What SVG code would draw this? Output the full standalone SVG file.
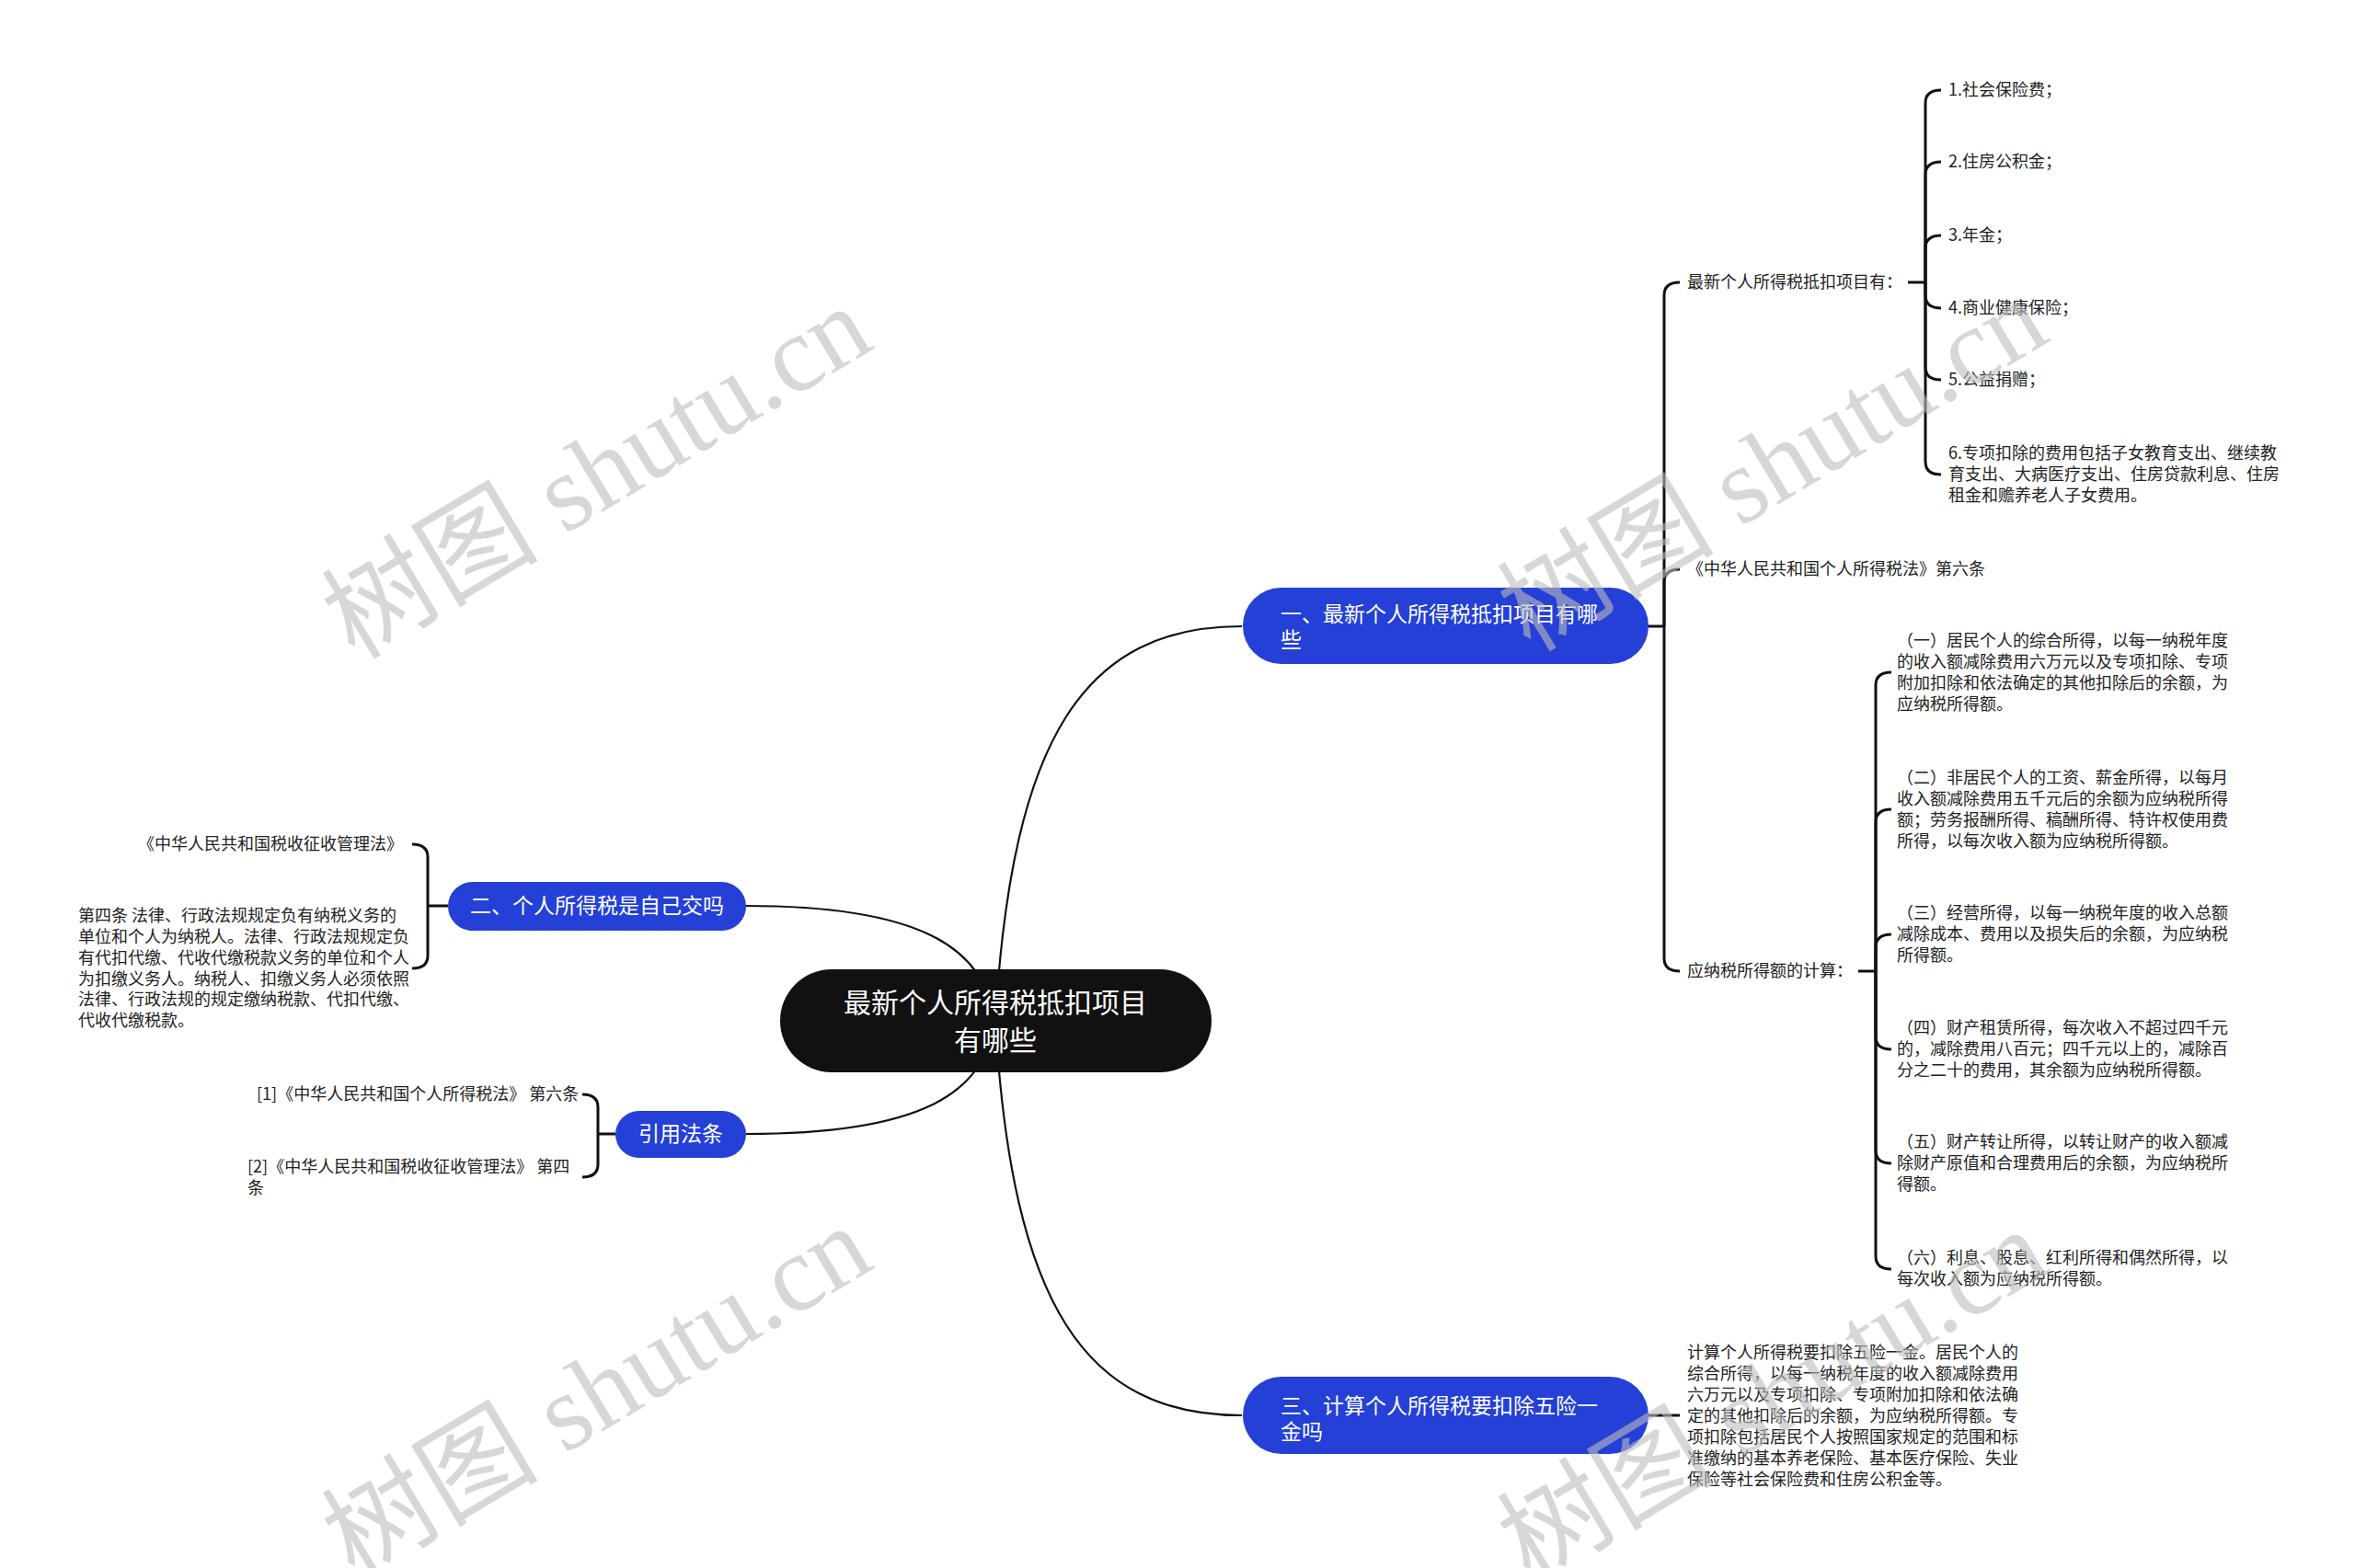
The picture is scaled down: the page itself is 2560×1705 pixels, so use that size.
<svg xmlns="http://www.w3.org/2000/svg" width="2560" height="1705" viewBox="0 0 2560 1705">
<style>
.bg{fill:#ffffff}
.link{fill:none;stroke:#111111;stroke-width:2.2}
.br{fill:none;stroke:#111111;stroke-width:3}
.root{fill:#111111}
.main{fill:#2440d6}
.rt{font-family:"Noto Sans CJK SC","Noto Sans",sans-serif;font-size:30px;fill:#ffffff}
.mt{font-family:"Noto Sans CJK SC","Noto Sans",sans-serif;font-size:23px;fill:#ffffff}
.lt{font-family:"Noto Sans CJK SC","Noto Sans",sans-serif;font-size:18px;fill:#222222}
.wm{font-family:"Liberation Serif","Noto Sans CJK SC",serif;font-size:118px;fill:#bdbdbd;fill-opacity:0.6}
</style>
<rect class="bg" x="0" y="0" width="2560" height="1705"/>
<g id="connectors">
<path class="link" d="M1082,1110 C1100,800 1180,681 1350,681"/>
<path class="link" d="M1082,1110 C1100,1420 1180,1539 1350,1539"/>
<path class="link" d="M1082,1110 C1070,1030 1000,985 811,985"/>
<path class="link" d="M1082,1110 C1070,1190 1000,1233 811,1233"/>
<path class="br" d="M1791,681 L1809,681"/>
<path class="br" d="M1809,681 L1809,321 Q1809,307 1826,307"/>
<path class="br" d="M1809,681 L1809,633 Q1809,619 1826,619"/>
<path class="br" d="M1809,681 L1809,1042 Q1809,1056 1826,1056"/>
<path class="br" d="M2074,307 L2093,307"/>
<path class="br" d="M2093,307 L2093,112 Q2093,98 2110,98"/>
<path class="br" d="M2093,307 L2093,190 Q2093,176 2110,176"/>
<path class="br" d="M2093,307 L2093,270 Q2093,256 2110,256"/>
<path class="br" d="M2093,307 L2093,321 Q2093,335 2110,335"/>
<path class="br" d="M2093,307 L2093,399 Q2093,413 2110,413"/>
<path class="br" d="M2093,307 L2093,502 Q2093,516 2110,516"/>
<path class="br" d="M2020,1056 L2039,1056"/>
<path class="br" d="M2039,1056 L2039,745 Q2039,731 2056,731"/>
<path class="br" d="M2039,1056 L2039,894 Q2039,880 2056,880"/>
<path class="br" d="M2039,1056 L2039,1030 Q2039,1016 2056,1016"/>
<path class="br" d="M2039,1056 L2039,1127 Q2039,1141 2056,1141"/>
<path class="br" d="M2039,1056 L2039,1251 Q2039,1265 2056,1265"/>
<path class="br" d="M2039,1056 L2039,1366 Q2039,1380 2056,1380"/>
<path class="br" d="M1791,1539 L1826,1539"/>
<path class="br" d="M487,985 L465,985"/>
<path class="br" d="M465,985 L465,932 Q465,918 448,918"/>
<path class="br" d="M465,985 L465,1039 Q465,1053 448,1053"/>
<path class="br" d="M669,1233 L650,1233"/>
<path class="br" d="M650,1233 L650,1204 Q650,1190 633,1190"/>
<path class="br" d="M650,1233 L650,1266 Q650,1280 633,1280"/>
</g>
<g id="root">
<rect class="root" x="848" y="1054" width="469" height="112" rx="56"/>
<text class="rt" text-anchor="middle"><tspan x="1082" y="1101">最新个人所得税抵扣项目</tspan><tspan x="1082" y="1142">有哪些</tspan></text>
</g>
<g id="n1">
<rect class="main" x="1351" y="639" width="441" height="83" rx="41.5"/>
<text class="mt"><tspan x="1392" y="676">一、最新个人所得税抵扣项目有哪</tspan><tspan x="1392" y="704">些</tspan></text>
</g>
<g id="n2">
<rect class="main" x="487" y="959" width="324" height="53" rx="26.5"/>
<text class="mt" x="649" y="993" text-anchor="middle">二、个人所得税是自己交吗</text>
</g>
<g id="n3">
<rect class="main" x="1351" y="1497" width="441" height="84" rx="42"/>
<text class="mt"><tspan x="1392" y="1537">三、计算个人所得税要扣除五险一</tspan><tspan x="1392" y="1565">金吗</tspan></text>
</g>
<g id="n4">
<rect class="main" x="669" y="1208" width="142" height="51" rx="25.5"/>
<text class="mt" x="740" y="1241" text-anchor="middle">引用法条</text>
</g>
<g id="l1"><text class="lt" x="1834" y="313">最新个人所得税抵扣项目有：</text></g>
<g id="l1a"><text class="lt" x="2118" y="104">1.社会保险费；</text></g>
<g id="l1b"><text class="lt" x="2118" y="182">2.住房公积金；</text></g>
<g id="l1c"><text class="lt" x="2118" y="262">3.年金；</text></g>
<g id="l1d"><text class="lt" x="2118" y="341">4.商业健康保险；</text></g>
<g id="l1e"><text class="lt" x="2118" y="419">5.公益捐赠；</text></g>
<g id="l1f"><text class="lt"><tspan x="2118" y="499">6.专项扣除的费用包括子女教育支出、继续教</tspan><tspan x="2118" y="522">育支出、大病医疗支出、住房贷款利息、住房</tspan><tspan x="2118" y="545">租金和赡养老人子女费用。</tspan></text></g>
<g id="l2"><text class="lt" x="1834" y="625">《中华人民共和国个人所得税法》第六条</text></g>
<g id="l3"><text class="lt" x="1834" y="1062">应纳税所得额的计算：</text></g>
<g id="l3a"><text class="lt"><tspan x="2062" y="703">（一）居民个人的综合所得，以每一纳税年度</tspan><tspan x="2062" y="726">的收入额减除费用六万元以及专项扣除、专项</tspan><tspan x="2062" y="749">附加扣除和依法确定的其他扣除后的余额，为</tspan><tspan x="2062" y="772">应纳税所得额。</tspan></text></g>
<g id="l3b"><text class="lt"><tspan x="2062" y="852">（二）非居民个人的工资、薪金所得，以每月</tspan><tspan x="2062" y="875">收入额减除费用五千元后的余额为应纳税所得</tspan><tspan x="2062" y="898">额；劳务报酬所得、稿酬所得、特许权使用费</tspan><tspan x="2062" y="921">所得，以每次收入额为应纳税所得额。</tspan></text></g>
<g id="l3c"><text class="lt"><tspan x="2062" y="999">（三）经营所得，以每一纳税年度的收入总额</tspan><tspan x="2062" y="1022">减除成本、费用以及损失后的余额，为应纳税</tspan><tspan x="2062" y="1045">所得额。</tspan></text></g>
<g id="l3d"><text class="lt"><tspan x="2062" y="1124">（四）财产租赁所得，每次收入不超过四千元</tspan><tspan x="2062" y="1147">的，减除费用八百元；四千元以上的，减除百</tspan><tspan x="2062" y="1170">分之二十的费用，其余额为应纳税所得额。</tspan></text></g>
<g id="l3e"><text class="lt"><tspan x="2062" y="1248">（五）财产转让所得，以转让财产的收入额减</tspan><tspan x="2062" y="1271">除财产原值和合理费用后的余额，为应纳税所</tspan><tspan x="2062" y="1294">得额。</tspan></text></g>
<g id="l3f"><text class="lt"><tspan x="2062" y="1374">（六）利息、股息、红利所得和偶然所得，以</tspan><tspan x="2062" y="1397">每次收入额为应纳税所得额。</tspan></text></g>
<g id="l4"><text class="lt"><tspan x="1834" y="1477">计算个人所得税要扣除五险一金。居民个人的</tspan><tspan x="1834" y="1500">综合所得，以每一纳税年度的收入额减除费用</tspan><tspan x="1834" y="1523">六万元以及专项扣除、专项附加扣除和依法确</tspan><tspan x="1834" y="1546">定的其他扣除后的余额，为应纳税所得额。专</tspan><tspan x="1834" y="1569">项扣除包括居民个人按照国家规定的范围和标</tspan><tspan x="1834" y="1592">准缴纳的基本养老保险、基本医疗保险、失业</tspan><tspan x="1834" y="1615">保险等社会保险费和住房公积金等。</tspan></text></g>
<g id="l5"><text class="lt" x="438" y="924" text-anchor="end">《中华人民共和国税收征收管理法》</text></g>
<g id="l6"><text class="lt"><tspan x="85" y="1002">第四条 法律、行政法规规定负有纳税义务的</tspan><tspan x="85" y="1025">单位和个人为纳税人。法律、行政法规规定负</tspan><tspan x="85" y="1048">有代扣代缴、代收代缴税款义务的单位和个人</tspan><tspan x="85" y="1071">为扣缴义务人。纳税人、扣缴义务人必须依照</tspan><tspan x="85" y="1093">法律、行政法规的规定缴纳税款、代扣代缴、</tspan><tspan x="85" y="1116">代收代缴税款。</tspan></text></g>
<g id="l7"><text class="lt" x="279" y="1196">[1]《中华人民共和国个人所得税法》 第六条</text></g>
<g id="l8"><text class="lt"><tspan x="269" y="1275">[2]《中华人民共和国税收征收管理法》 第四</tspan><tspan x="269" y="1298">条</tspan></text></g>
<g id="watermarks">
<text class="wm" x="649" y="514" text-anchor="middle" dominant-baseline="central" transform="rotate(-31 649 514)">树图 shutu.cn</text>
<text class="wm" x="1927" y="506" text-anchor="middle" dominant-baseline="central" transform="rotate(-31 1927 506)">树图 shutu.cn</text>
<text class="wm" x="649" y="1514" text-anchor="middle" dominant-baseline="central" transform="rotate(-31 649 1514)">树图 shutu.cn</text>
<text class="wm" x="1927" y="1518" text-anchor="middle" dominant-baseline="central" transform="rotate(-31 1927 1518)">树图 shutu.cn</text>
</g>
</svg>
